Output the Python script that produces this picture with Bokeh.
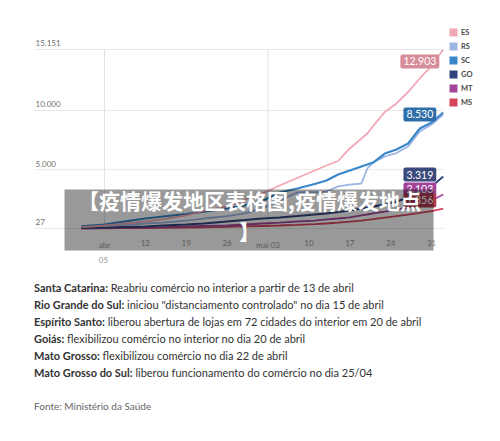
import html
import numpy as np
import pandas as pd
from bokeh.plotting import figure
from bokeh.models import (Range1d, ColumnDataSource, LabelSet, Label,
                          BoxAnnotation, Legend, LegendItem, Div)
from bokeh.core.properties import value
from bokeh.layouts import column
from bokeh.embed import file_html
from bokeh.resources import INLINE

# ---------------- data ----------------
dates = ["2020-04-01", "2020-04-05", "2020-04-08", "2020-04-12", "2020-04-15",
         "2020-04-19", "2020-04-22", "2020-04-26", "2020-04-29", "2020-05-02",
         "2020-05-05", "2020-05-08", "2020-05-11", "2020-05-13", "2020-05-15",
         "2020-05-17", "2020-05-19", "2020-05-20", "2020-05-21", "2020-05-23",
         "2020-05-25", "2020-05-27", "2020-05-29", "2020-05-31", "2020-06-02"]

es = [150, 280, 410, 620, 790, 1130, 1510, 1890, 2480, 2980, 3660, 4290, 4930,
      5350, 5730, 6790, 7630, 8050, 8690, 9870, 10590, 11560, 12720, 13770, 15151]
rs = [150, 240, 320, 450, 530, 700, 870, 1080, 1300, 1720, 2390, 3070, 3110,
      3150, 3580, 3740, 3830, 5100, 5600, 6110, 6400, 6960, 8220, 8810, 9660]
sc = [200, 365, 580, 870, 1040, 1250, 1460, 1720, 1970, 2350, 3070, 3410, 3790,
      4080, 4590, 4930, 5270, 5430, 5600, 6360, 6700, 7210, 8480, 8980, 9830]
go = [70, 110, 150, 200, 280, 365, 450, 620, 740, 870, 960, 1080, 1210, 1300,
      1420, 1550, 1720, 1800, 1890, 2050, 2310, 2650, 3240, 3570, 4420]
mt = [40, 70, 95, 130, 150, 200, 240, 280, 365, 450, 530, 620, 700, 790, 870,
      960, 1130, 1210, 1300, 1460, 1630, 1800, 2100, 2390, 2900]
ms_ = [30, 40, 50, 60, 80, 100, 130, 160, 200, 240, 280, 330, 400, 450, 520,
       600, 700, 760, 820, 950, 1080, 1200, 1356, 1500, 1700]

series_names = ["ES", "RS", "SC", "GO", "MT", "MS"]
series_values = [es, rs, sc, go, mt, ms_]
series_colors = ["#f2a7b4", "#9cb6e4", "#3a87c9", "#34457e", "#a3489d", "#d7455f"]
series_widths = [1.8, 1.8, 2.2, 2.0, 1.8, 1.8]

ytick_values = [27, 5000, 10000, 15151]
ytick_labels = ["27", "5.000", "10.000", "15.151"]

xtick_dates = ["2020-04-05", "2020-04-12", "2020-04-19", "2020-04-26", "2020-05-03",
               "2020-05-10", "2020-05-17", "2020-05-24", "2020-05-31"]
xtick_labels = ["abr\n05", "12", "19", "26", "mai 03", "10", "17", "24", "31"]
month_dates = ["2020-04-05", "2020-05-03"]
grid_start, grid_end = "2020-03-24", "2020-06-02 01:00"

tag_values = [12903, 8530, 3319, 2103, 1356]
tag_colors = ["#d68c99", "#2e6ea9", "#3b4a7c", "#a2449a", "#b03a50"]
tag_date = "2020-05-29"
tag_y = [14137, 9659, 4589, 3322, 2393]

overlay_lines = ["【疫情爆发地区表格图,疫情爆发地点", "】"]

states = ["Santa Catarina", "Rio Grande do Sul", "Espírito Santo", "Goiás",
          "Mato Grosso", "Mato Grosso do Sul"]
notes = ["Reabriu comércio no interior a partir de 13 de abril",
         'iniciou "distanciamento controlado" no dia 15 de abril',
         "liberou abertura de lojas em 72 cidades do interior em 20 de abril",
         "flexibilizou comércio no interior no dia 20 de abril",
         "flexibilizou comércio no dia 22 de abril",
         "liberou funcionamento do comércio no dia 25/04"]
source_note = "Fonte: Ministério da Saúde"


def ms(d):
    return pd.Timestamp(d).value // 10**6


# ---------------- figure (plot area fills the canvas) ----------------
p = figure(width=500, height=270, x_axis_location=None, y_axis_location=None,
           toolbar_location=None, output_backend="svg",
           x_range=Range1d(ms("2020-03-18 04:36"), ms("2020-06-11 19:26")),
           y_range=Range1d(-3522, 19291),
           min_border_left=0, min_border_right=0, min_border_top=0,
           min_border_bottom=0)
p.outline_line_color = None
p.xgrid.visible = False
p.ygrid.visible = False

# horizontal grid lines at the y ticks
n = len(ytick_values)
p.segment(x0=[ms(grid_start)] * n, x1=[ms(grid_end)] * n, y0=ytick_values, y1=ytick_values,
          line_color="#e9e9e9", line_width=1)
# vertical grid lines at month starts
m = len(month_dates)
p.segment(x0=[ms(d) for d in month_dates], x1=[ms(d) for d in month_dates],
          y0=[ytick_values[0]] * m, y1=[ytick_values[-1]] * m,
          line_color="#e2e2e2", line_width=1)

xs = [ms(d) for d in dates]
order = [5, 4, 3, 1, 2, 0]
for i in order:
    p.line(xs, series_values[i], line_color=series_colors[i], line_width=series_widths[i])

# y tick labels above each grid line
ysrc = ColumnDataSource(dict(y=ytick_values, text=ytick_labels))
p.add_layout(LabelSet(x=35, x_units="screen", y="y", text="text", source=ysrc,
                      y_offset=3, text_baseline="bottom", text_align="left",
                      text_font=value("Lato"), text_font_size="8px", text_color="#707070"))

# x tick labels under the plot
xsrc = ColumnDataSource(dict(x=[ms(d) for d in xtick_dates], text=xtick_labels))
p.add_layout(LabelSet(x="x", y=31, y_units="screen", text="text", source=xsrc,
                      text_baseline="top", text_align="center", text_line_height=1.5,
                      text_font=value("Lato"), text_font_size="8px", text_color="#9a9a9a"))

# legend with square swatches (swatch-only renderers hold no visible data)
items = []
for name, col in zip(series_names, series_colors):
    nan = np.array([np.nan])
    r = p.quad(left=nan, right=nan, top=nan, bottom=nan, fill_color=col, line_color=None)
    items.append(LegendItem(label=name, renderers=[r]))
legend = Legend(items=items, location=(448, 163), orientation="vertical",
                border_line_color=None, background_fill_alpha=0, padding=0, margin=0,
                spacing=4, glyph_width=10, glyph_height=10, label_height=10,
                label_standoff=3, label_text_font="Lato", label_text_font_style="bold",
                label_text_font_size="7.5px", label_text_color="#4a4a4a")
p.add_layout(legend)

# value tags
for v, c, ty in zip(tag_values, tag_colors, tag_y):
    p.add_layout(Label(x=ms(tag_date), y=ty, text=f"{v:,}".replace(",", "."),
                       text_align="center", text_baseline="middle",
                       text_font="Lato", text_font_size="10.5px", text_color="white",
                       background_fill_color=c, padding=3, border_radius=2))

# grey overlay with title text
p.add_layout(BoxAnnotation(left=64, right=433, top=81, bottom=20,
                           left_units="screen", right_units="screen",
                           top_units="screen", bottom_units="screen",
                           fill_color="black", fill_alpha=0.4, line_color=None,
                           level="annotation"))
for txt, yy in zip(overlay_lines, [71, 40]):
    p.add_layout(Label(x=249, y=yy, x_units="screen", y_units="screen", text=txt,
                       text_align="center", text_baseline="middle",
                       text_font="Noto Sans CJK SC", text_font_style="bold",
                       text_font_size="21px", text_color="white"))

# ---------------- notes below ----------------
rows = "".join(
    f'<div><b>{html.escape(s)}:</b> {html.escape(n)}</div>' for s, n in zip(states, notes))
div_html = (
    '<div style="font-family:Lato;font-size:11px;line-height:17px;color:#333;'
    'padding:8.5px 0 0 34px;white-space:nowrap;">'
    f'{rows}<div style="height:17px"></div>'
    f'<div style="color:#666;font-size:10px">{html.escape(source_note)}</div></div>')
div = Div(text=div_html, width=500, height=171, margin=0)

layout = column(p, div, spacing=0)
open("out.html", "w").write(file_html(layout, INLINE))
